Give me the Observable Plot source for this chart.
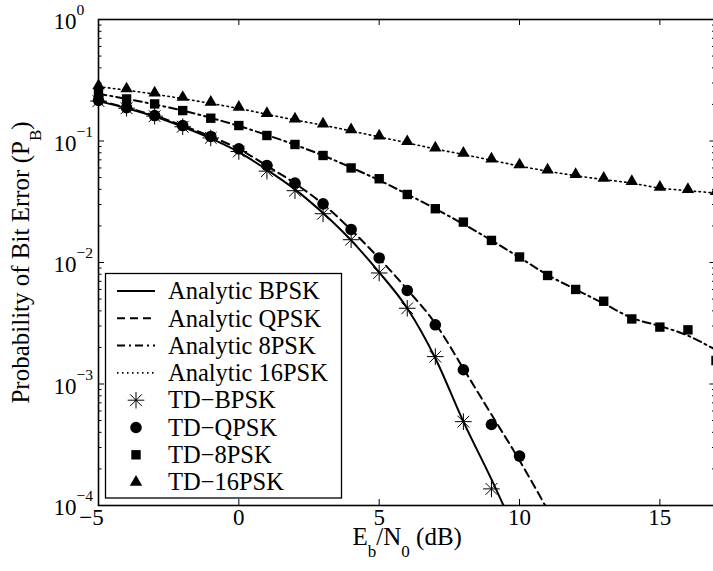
<!DOCTYPE html>
<html><head><meta charset="utf-8">
<script src="https://cdn.jsdelivr.net/npm/d3@7"></script>
<script src="https://cdn.jsdelivr.net/npm/@observablehq/plot@0.6"></script>
<style>
html,body{margin:0;padding:0;background:#fff;overflow:hidden;}
#chart svg{display:block;overflow:hidden;}
</style></head><body><div id="chart"></div>
<script>
// ---------- data ----------
const snrBPSK = [-5,-4,-3,-2,-1,0,1,2,3,4,5,6,7,8,9];
const snrQPSK = [-5,-4,-3,-2,-1,0,1,2,3,4,5,6,7,8,9,10];
const snrAll  = [-5,-4,-3,-2,-1,0,1,2,3,4,5,6,7,8,9,10,11,12,13,14,15,16,17];
const snrAnaBPSK = [-5,-4,-3,-2,-1,0,1,2,3,4,5,6,7,8,9,10];
const snrAnaQPSK = [-5,-4,-3,-2,-1,0,1,2,3,4,5,6,7,8,9,10,11];

const analyticBPSK = [0.213,0.186,0.159,0.131,0.105,0.081,0.058,0.040,0.0255,0.0152,0.0083,0.0042,0.00163,0.00049,0.000164,0.000051];
const analyticQPSK = [0.216,0.188,0.162,0.134,0.109,0.0860,0.0625,0.0448,0.0302,0.0186,0.0108,0.0060,0.00315,0.00134,0.00056,0.000235,0.000092];
const analytic8PSK = [0.245,0.222,0.200,0.178,0.155,0.133,0.112,0.0930,0.0760,0.0605,0.0475,0.0365,0.0277,0.0207,0.0152,0.0110,0.0079,0.0060,0.0046,0.0035,0.0030,0.0025,0.0019];
const analytic16PSK = [0.280,0.262,0.243,0.223,0.204,0.185,0.166,0.149,0.135,0.121,0.108,0.0965,0.086,0.0775,0.0695,0.0622,0.0565,0.0518,0.0482,0.0450,0.0410,0.0390,0.0373];

const tdBPSK  = [0.213,0.186,0.160,0.131,0.106,0.082,0.0565,0.039,0.0252,0.0154,0.0082,0.0042,0.00168,0.00049,0.000137];
const tdQPSK  = [0.216,0.188,0.162,0.134,0.109,0.0863,0.0629,0.0450,0.0304,0.0187,0.0109,0.00589,0.00307,0.00131,0.000464,0.000255];
const td8PSK  = [0.245,0.222,0.202,0.178,0.154,0.134,0.111,0.0936,0.076,0.060,0.0489,0.0363,0.0277,0.0215,0.0152,0.0111,0.00782,0.00600,0.00480,0.00343,0.00294,0.00279,0.00156];
const td16PSK = [0.286,0.269,0.249,0.229,0.209,0.190,0.169,0.152,0.138,0.124,0.110,0.099,0.0879,0.0794,0.0713,0.0637,0.0579,0.0530,0.0494,0.0464,0.0417,0.0399,0.0384];

const xTicks = [-5,0,5,10,15];
const xTickLabels = ["\u22125","0","5","10","15"];
const yTicks = [1e-4,1e-3,1e-2,1e-1,1];
const yTickLabels = ["10^{\u22124}","10^{\u22123}","10^{\u22122}","10^{\u22121}","10^{0}"];
const xLabel = "E_{b}/N_{0} (dB)";
const yLabel = "Probability of Bit Error (P_{B})";
const legendLabels = ["Analytic BPSK","Analytic QPSK","Analytic 8PSK","Analytic 16PSK","TD\u2212BPSK","TD\u2212QPSK","TD\u22128PSK","TD\u221216PSK"];

// ---------- layout ----------
const W = 713, H = 571;
const mL = 98, mT = 19, mB = 66, mR = -2.5;
const plotW = W - mL - mR, plotH = H - mT - mB;
const FONT = "'Liberation Serif','Times New Roman',serif";

const rows = (xs, ys) => xs.map((x, i) => ({x, y: ys[i]}));
const yMinor = yTicks.slice(0, -1).flatMap(d => [2,3,4,5,6,7,8,9].map(k => k * d));

const asterisk = {
  draw(ctx, size) {
    const r = Math.sqrt(size / Math.PI), d = r / Math.SQRT2;
    ctx.moveTo(-r, 0); ctx.lineTo(r, 0);
    ctx.moveTo(0, -r); ctx.lineTo(0, r);
    ctx.moveTo(-d, -d); ctx.lineTo(d, d);
    ctx.moveTo(-d, d); ctx.lineTo(d, -d);
  }
};

const lineStyles = [
  {dash: null, width: 2},
  {dash: "8,5", width: 2},
  {dash: "8,4,2,4", width: 2},
  {dash: "1.5,3.5", width: 1.6}
];
const markerStyles = [
  {symbol: asterisk, r: 8.3, fill: "none", stroke: "black", sw: 1},
  {symbol: d3.symbolCircle, r: 5.8, fill: "black", stroke: "none", sw: 0},
  {symbol: d3.symbolSquare, r: 5.3, fill: "black", stroke: "none", sw: 0},
  {symbol: d3.symbolTriangle, r: 4.6, fill: "black", stroke: "none", sw: 0}
];

function legendMark() {
  const g = d3.create("svg:g").attr("font-family", FONT).attr("font-size", 24.5)
    .attr("text-anchor", "start");
  g.append("rect").attr("x", 105.5).attr("y", 273.5).attr("width", 236).attr("height", 224.5)
    .attr("fill", "white").attr("stroke", "black").attr("stroke-width", 1.3);
  legendLabels.forEach((lab, i) => {
    const cy = 291 + i * 27.3;
    if (i < 4) {
      const s = lineStyles[i];
      g.append("line").attr("x1", 117).attr("x2", 155).attr("y1", cy).attr("y2", cy)
        .attr("stroke", "black").attr("stroke-width", s.width)
        .attr("stroke-dasharray", s.dash);
    } else {
      const m = markerStyles[i - 4];
      g.append("path").attr("transform", `translate(136,${cy})`)
        .attr("d", d3.symbol(m.symbol, Math.PI * m.r * m.r)())
        .attr("fill", m.fill).attr("stroke", m.stroke).attr("stroke-width", m.sw);
    }
    g.append("text").attr("x", 168).attr("y", cy + 8.2).attr("fill", "black").text(lab);
  });
  return g.node();
}

const lineMark = (xs, ys, i) => Plot.line(rows(xs, ys), {
  x: "x", y: "y", stroke: "black", strokeWidth: lineStyles[i].width,
  strokeDasharray: lineStyles[i].dash, curve: "monotone-x", clip: true
});
const dotMark = (xs, ys, i) => Plot.dot(rows(xs, ys), {
  x: "x", y: "y", symbol: markerStyles[i].symbol, r: markerStyles[i].r,
  fill: markerStyles[i].fill, stroke: markerStyles[i].stroke, strokeWidth: markerStyles[i].sw
});

const chart = Plot.plot({
  width: W, height: H,
  marginLeft: mL, marginTop: mT, marginBottom: mB, marginRight: mR,
  style: {fontFamily: FONT, background: "white", color: "black"},
  x: {domain: [-5, 17], axis: null},
  y: {type: "log", domain: [1e-4, 1], axis: null},
  marks: [
    Plot.frame({stroke: "black", strokeWidth: 1.6}),
    Plot.ruleX(xTicks, {x: d => d, insetTop: plotH - 6, stroke: "black", strokeWidth: 1}),
    Plot.ruleX(xTicks, {x: d => d, insetBottom: plotH - 6, stroke: "black", strokeWidth: 1}),
    Plot.ruleY(yTicks, {y: d => d, insetRight: plotW - 6, stroke: "black", strokeWidth: 1}),
    Plot.ruleY(yTicks, {y: d => d, insetLeft: plotW - 6, stroke: "black", strokeWidth: 1}),
    Plot.ruleY(yMinor, {y: d => d, insetRight: plotW - 3.5, stroke: "black", strokeWidth: 1}),
    Plot.ruleY(yMinor, {y: d => d, insetLeft: plotW - 3.5, stroke: "black", strokeWidth: 1}),
    Plot.text(xTicks.slice(1), {x: d => d, text: (d, i) => xTickLabels[i + 1], frameAnchor: "bottom", dy: 19.6, fontSize: 23, fill: "black"}),
    Plot.text(xTicks.slice(0, 1), {x: d => d, text: (d, i) => xTickLabels[i], frameAnchor: "bottom", dy: 19.6, dx: -7, fontSize: 23, fill: "black"}),
    Plot.text(yTicks, {y: d => d, text: (d, i) => yTickLabels[i], frameAnchor: "left", textAnchor: "start", dx: -45, dy: 2.5, fontSize: 23, fill: "black"}),
    Plot.text([xLabel], {text: d => d, frameAnchor: "bottom", textAnchor: "middle", dy: 39, fontSize: 25, fill: "black"}),
    Plot.text([yLabel], {text: d => d, frameAnchor: "left", textAnchor: "middle", rotate: -90, dx: -78, fontSize: 25, fill: "black"}),
    lineMark(snrAnaBPSK, analyticBPSK, 0),
    lineMark(snrAnaQPSK, analyticQPSK, 1),
    lineMark(snrAll, analytic8PSK, 2),
    lineMark(snrAll, analytic16PSK, 3),
    dotMark(snrBPSK, tdBPSK, 0),
    dotMark(snrQPSK, tdQPSK, 1),
    dotMark(snrAll, td8PSK, 2),
    dotMark(snrAll, td16PSK, 3),
    legendMark
  ]
});
document.getElementById("chart").appendChild(chart);

// ---------- TeX-like sub/superscripts ----------
const NS = "http://www.w3.org/2000/svg";
chart.querySelectorAll("text").forEach(el => {
  const s = el.textContent;
  if (!/[_^]\{/.test(s)) return;
  const base = parseFloat(getComputedStyle(el).fontSize) || 20;
  const parts = s.split(/([_^]\{[^}]*\})/).filter(p => p);
  el.textContent = "";
  let shift = 0;
  for (const p of parts) {
    const m = p.match(/^([_^])\{(.*)\}$/);
    const t = document.createElementNS(NS, "tspan");
    if (m) {
      const off = m[1] === "_" ? 0.5 * base : -0.62 * base;
      t.setAttribute("dy", off - shift); shift = off;
      t.setAttribute("font-size", 0.68 * base);
      t.textContent = m[2];
    } else {
      if (shift !== 0) t.setAttribute("dy", -shift);
      shift = 0;
      t.textContent = p;
    }
    el.appendChild(t);
  }
});
</script></body></html>
